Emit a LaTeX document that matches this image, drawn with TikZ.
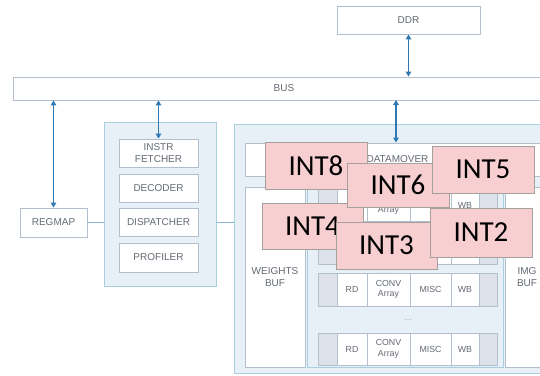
\documentclass[tikz,border=0pt]{standalone}
\usepackage{fontspec}
\setmainfont{Liberation Sans}
\newfontfamily\calibri{Carlito}
\usetikzlibrary{arrows.meta}

\definecolor{panelfill}{HTML}{E6F0F6}
\definecolor{panelline}{HTML}{A9CFDF}
\definecolor{boxline}{HTML}{B3BFCC}
\definecolor{lbltext}{HTML}{646A73}
\definecolor{linkblue}{HTML}{2F78B4}
\definecolor{tieblue}{HTML}{86B6D3}
\definecolor{endfill}{HTML}{DDE1E9}
\definecolor{intfill}{HTML}{F8CFD1}
\definecolor{intline}{HTML}{A79E9E}

\tikzset{
  blk/.style={draw=boxline, fill=white, line width=0.9pt, inner sep=0pt,
    text=lbltext, font=\fontsize{10}{12}\selectfont, align=center},
  panel/.style={draw=panelline, fill=panelfill, line width=1pt, inner sep=0pt},
  cellbox/.style={blk, font=\fontsize{8.8}{10.5}\selectfont},
  endcell/.style={cellbox, fill=endfill},
  intbox/.style={draw=intline, fill=intfill, line width=0.8pt, inner sep=0pt,
    font=\calibri\fontsize{29}{30}\selectfont, text=black},
  link/.style={draw=linkblue, line width=1.1pt,
    {Triangle[length=5pt,width=5.5pt]}-{Triangle[length=5pt,width=5.5pt]}},
  tie/.style={draw=tieblue, line width=1pt},
}

% rectangle node given by its corners: style, name, x1, y1, x2, y2, text
\newcommand\rectnode[7]{%
  \node[#1, minimum width={(#5-#3)*1pt}, minimum height={(#6-#4)*1pt}]
    (#2) at ({(#3+#5)/2},{(#4+#6)/2}) {#7};}

\begin{document}
\begin{tikzpicture}[x=1pt,y=-1pt]
\useasboundingbox (0,0) rectangle (540,375);
\fill[white] (0,0) rectangle (540,375);
\clip (0,0) rectangle (540,375);

% memory and bus
\rectnode{blk}{ddr}{337}{6}{480}{34}{DDR}
\rectnode{blk}{bus}{13}{77}{555}{100}{BUS}

% register map
\rectnode{blk}{regmap}{20}{208}{87}{237}{REGMAP}

% controller
\rectnode{panel}{ctrl}{104}{122}{216}{286}{}
\rectnode{blk}{fetch}{119}{139}{198}{167}{INSTR\\FETCHER}
\rectnode{blk}{decode}{119}{174}{198}{202}{DECODER}
\rectnode{blk}{dispatch}{119}{208}{198}{236}{DISPATCHER}
\rectnode{blk}{profile}{119}{243}{198}{272}{PROFILER}

% compute engine
\rectnode{panel}{engine}{234}{124}{560}{373}{}
\rectnode{blk}{datamover}{245}{143}{550}{176}{DATAMOVER}
\rectnode{blk}{wbuf}{245}{187}{305}{367}{WEIGHTS\\BUF}
\rectnode{panel}{pe}{307}{187}{503}{367}{}
\rectnode{blk}{ibuf}{505}{187}{549}{367}{IMG\\BUF}

% processing rows (the upper two lie under the tags)
\rectnode{endcell}{a-l}{318}{189}{337}{221}{}
\rectnode{cellbox}{a-rd}{337}{189}{367}{221}{}
\rectnode{cellbox}{a-conv}{367}{189}{410}{221}{\phantom{CONV}\\Array}
\rectnode{cellbox}{a-misc}{410}{189}{451}{221}{}
\rectnode{cellbox}{a-wb}{451}{189}{479}{221}{WB}
\rectnode{endcell}{a-r}{479}{189}{497}{221}{}
\foreach \ya/\yb in {230/264} {
  \rectnode{endcell}{b-l}{318}{\ya}{337}{\yb}{}
  \rectnode{cellbox}{b-rd}{337}{\ya}{367}{\yb}{}
  \rectnode{cellbox}{b-conv}{367}{\ya}{410}{\yb}{}
  \rectnode{cellbox}{b-misc}{410}{\ya}{451}{\yb}{}
  \rectnode{cellbox}{b-wb}{451}{\ya}{479}{\yb}{}
  \rectnode{endcell}{b-r}{479}{\ya}{497}{\yb}{}
}
\foreach \r/\ya/\yb in {c/273/306, d/333/365} {
  \rectnode{endcell}{\r-l}{318}{\ya}{337}{\yb}{}
  \rectnode{cellbox}{\r-rd}{337}{\ya}{367}{\yb}{RD}
  \rectnode{cellbox}{\r-conv}{367}{\ya}{410}{\yb}{CONV\\Array}
  \rectnode{cellbox}{\r-misc}{410}{\ya}{451}{\yb}{MISC}
  \rectnode{cellbox}{\r-wb}{451}{\ya}{479}{\yb}{WB}
  \rectnode{endcell}{\r-r}{479}{\ya}{497}{\yb}{}
}
\node[text=tieblue, font=\fontsize{9}{9}\selectfont] (dots) at (408,320) {...};

% connections
\draw[link] (ddr.south) -- (ddr.south |- bus.north);
\draw[link] (regmap.north |- bus.south) -- (regmap.north);
\draw[link] (fetch.north |- bus.south) -- (fetch.north);
\draw[link] (396,100) coordinate (dmtap) -- (dmtap |- datamover.north);
\draw[tie] (regmap.east) -- (regmap.east -| ctrl.west);
\draw[tie] (ctrl.east |- regmap.east) -- (engine.west |- regmap.east);

% overlay tags
\rectnode{intbox}{int8}{265}{142}{367}{189}{INT8}
\rectnode{intbox}{int4}{262}{203}{363}{249}{INT4}
\rectnode{intbox}{int6}{347}{163}{449}{207}{INT6}
\rectnode{intbox}{int3}{336}{222}{437}{269}{INT3}
\rectnode{intbox}{int5}{432}{146}{534}{193}{INT5}
\rectnode{intbox}{int2}{430}{208}{532}{257}{INT2}
\end{tikzpicture}
\end{document}
